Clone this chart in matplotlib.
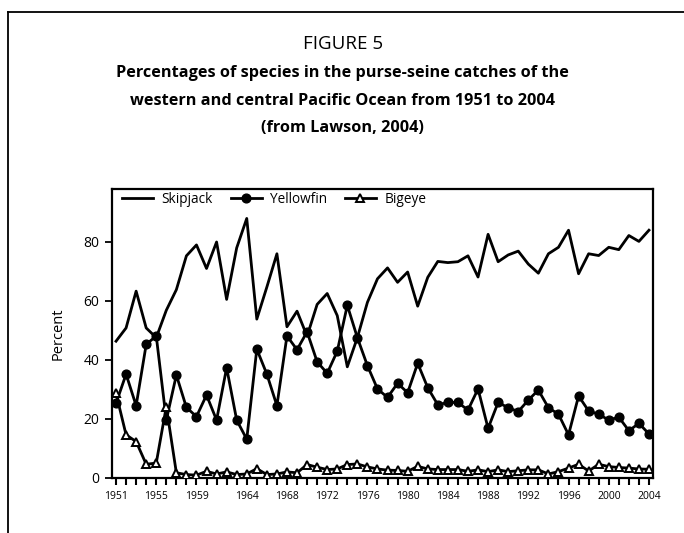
import matplotlib
matplotlib.use("Agg")
import matplotlib.pyplot as plt
from matplotlib.lines import Line2D

plt.rcParams['font.family'] = ['Open Sans', 'DejaVu Sans']

# Species shares (%) of the purse-seine catch, 1951-2004
years = list(range(1951, 2005))
skipjack = [46.3, 50.8, 63.3, 50.8, 47.5, 56.8, 63.8, 75.3, 79.0, 71.0,
            80.0, 60.5, 78.0, 88.0, 53.8, 64.7, 76.0, 51.2, 56.5, 48.0,
            58.8, 62.5, 55.0, 37.6, 47.5, 59.5, 67.5, 71.2, 66.3, 69.8,
            58.2, 68.0, 73.4, 73.0, 73.3, 75.3, 68.1, 82.6, 73.3, 75.6,
            76.9, 72.5, 69.4, 76.0, 78.2, 84.0, 69.2, 76.0, 75.4, 78.2,
            77.4, 82.2, 80.2, 84.0]
yellowfin = [25.2, 35.1, 24.4, 45.2, 48.1, 19.5, 34.8, 23.8, 20.7, 28.0,
             19.5, 37.3, 19.5, 13.0, 43.6, 35.1, 24.4, 48.1, 43.4, 49.5,
             39.3, 35.4, 42.9, 58.5, 47.5, 38.0, 30.1, 27.2, 32.0, 28.8,
             38.8, 30.5, 24.7, 25.5, 25.5, 22.9, 30.1, 16.7, 25.5, 23.7,
             22.4, 26.3, 29.7, 23.7, 21.5, 14.5, 27.7, 22.6, 21.5, 19.5,
             20.5, 15.9, 18.4, 14.8]
bigeye = [28.6, 14.5, 12.2, 4.5, 4.9, 24.1, 1.6, 1.0, 0.8, 2.1,
          1.2, 1.9, 1.0, 1.2, 3.0, 1.0, 1.2, 1.9, 1.6, 4.4,
          3.5, 2.7, 2.9, 4.4, 4.6, 3.6, 2.9, 2.5, 2.4, 2.1,
          3.8, 2.9, 2.7, 2.7, 2.7, 2.1, 2.6, 2.0, 2.6, 2.0,
          2.3, 2.6, 2.6, 1.2, 2.0, 3.2, 4.5, 2.2, 4.5, 3.7,
          3.4, 3.2, 2.9, 2.8]
labelled_years = [1951, 1955, 1959, 1964, 1968, 1972, 1976, 1980,
                  1984, 1988, 1992, 1996, 2000, 2004]
y_ticks = [0, 20, 40, 60, 80]

W, H = 684, 533
fig = plt.figure(figsize=(W / 100, H / 100), dpi=100)

# Outer frame (left and top edges)
fig.add_artist(Line2D([8 / W, 8 / W], [0, 1 - 12 / H], transform=fig.transFigure,
                      color='black', lw=1.3))
fig.add_artist(Line2D([8 / W, 1], [1 - 12 / H, 1 - 12 / H], transform=fig.transFigure,
                      color='black', lw=1.3))

# Title block
fig.text(0.501, 1 - 44 / H, 'FIGURE 5', ha='center', va='center', fontsize=13.5)
title_lines = ['Percentages of species in the purse-seine catches of the',
               'western and central Pacific Ocean from 1951 to 2004',
               '(from Lawson, 2004)']
for yy, line in zip([73, 101, 128], title_lines):
    fig.text(0.501, 1 - yy / H, line, ha='center', va='center',
             fontsize=11.7, fontweight='bold')

ax = fig.add_axes([112 / W, 1 - 477.5 / H, (653 - 112) / W, (477.5 - 189) / H])

lw = 2.0
ax.plot(years, skipjack, color='black', lw=lw, label='Skipjack', zorder=3)
ax.plot(years, yellowfin, color='black', lw=lw, marker='o', markersize=6.3,
        markerfacecolor='black', markeredgecolor='black', label='Yellowfin', zorder=4)
ax.plot(years, bigeye, color='black', lw=lw, marker='^', markersize=5.4,
        markerfacecolor='white', markeredgecolor='black', markeredgewidth=1.4,
        label='Bigeye', zorder=5)

ax.set_xlim(1950.6, 2004.4)
ax.set_ylim(0, 98)

ax.set_xticks(years)
ax.set_xticklabels([str(y) if y in labelled_years else '' for y in years], fontsize=7.5)
ax.set_yticks(y_ticks)
ax.set_yticklabels([str(v) for v in y_ticks], fontsize=10)
ax.tick_params(axis='x', direction='out', length=5, width=1.5, pad=5)
ax.tick_params(axis='y', direction='out', length=5, width=1.3, pad=4)
for s in ax.spines.values():
    s.set_linewidth(1.6)

ax.set_ylabel('Percent', fontsize=10.5, labelpad=13)

ax.legend(loc='upper left', bbox_to_anchor=(0.0185, 0.99), ncol=3, frameon=False,
          fontsize=9.8, handlelength=2.3, handletextpad=0.6, columnspacing=1.3,
          borderpad=0, borderaxespad=0)

fig.savefig('out.png', dpi=100)
